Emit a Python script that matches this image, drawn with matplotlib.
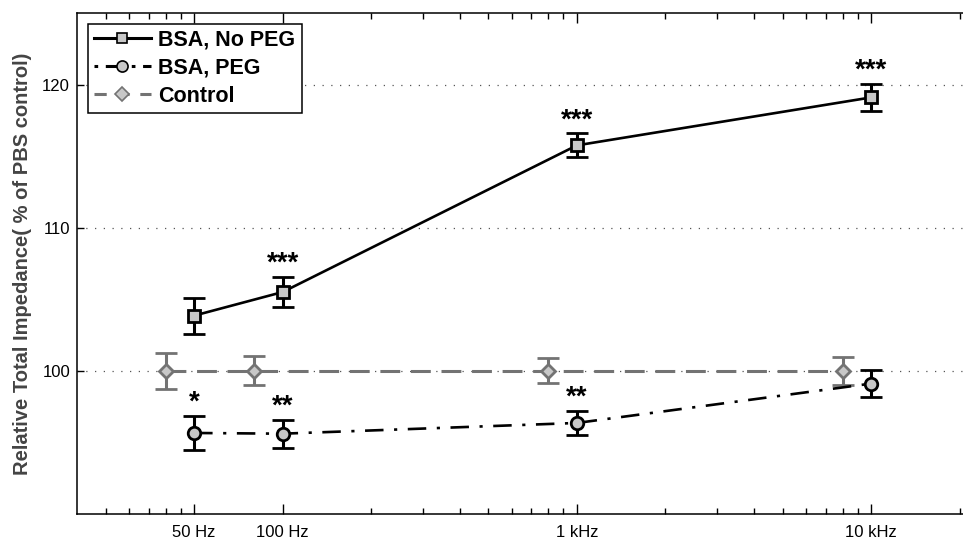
import numpy as np
import matplotlib
matplotlib.use("Agg")
from matplotlib import pyplot as plt
from matplotlib.lines import Line2D
from matplotlib.ticker import FixedLocator, NullFormatter

plt.rcParams['font.family'] = ['Liberation Sans', 'DejaVu Sans']

# frequencies (Hz) and relative impedance (% of PBS control)
freq = [50, 100, 1000, 10000]
freq_ctrl = [40, 80, 800, 8000]
tick_labels = ['50 Hz', '100 Hz', '1 kHz', '10 kHz']

no_peg = [103.85, 105.5, 115.75, 119.1]
no_peg_err = [1.25, 1.05, 0.84, 0.97]
no_peg_sig = ['', '***', '***', '***']

peg = [95.65, 95.6, 96.35, 99.1]
peg_err = [1.2, 0.97, 0.84, 0.93]
peg_sig = ['*', '**', '**', '']

ctrl = [100, 100, 100, 100]
ctrl_err = [1.25, 1.0, 0.87, 0.97]

gray = '#737373'
face = '#c8c8c8'
peg_dash = (7, 4, 1.2, 4)
ctrl_dash = (6.5, 3.5)

fig = plt.figure(figsize=(9.63, 5.42), dpi=100)
ax = fig.add_axes([0.080, 0.052, 0.923, 0.924])

ax.errorbar(freq, no_peg, yerr=no_peg_err, color='k', lw=1.9, ls='-',
            marker='s', ms=8, mfc=face, mec='k', mew=2.0,
            elinewidth=2.2, capsize=8, capthick=2.2, zorder=4)
ax.errorbar(freq, peg, yerr=peg_err, color='k', lw=1.9, dashes=peg_dash,
            marker='o', ms=9, mfc=face, mec='k', mew=2.0,
            elinewidth=2.2, capsize=8, capthick=2.2, zorder=4)
ax.errorbar(freq_ctrl, ctrl, yerr=ctrl_err, color=gray, lw=2.2, dashes=ctrl_dash,
            marker='D', ms=7.5, mfc=face, mec=gray, mew=2.0,
            elinewidth=2.2, capsize=8, capthick=2.2, zorder=3)

# significance stars above the error bars
for vals, errs, sigs in [(no_peg, no_peg_err, no_peg_sig), (peg, peg_err, peg_sig)]:
    for x, y, e, s in zip(freq, vals, errs, sigs):
        if s:
            ax.annotate(s, (x, y + e), xytext=(0, 0), textcoords='offset points',
                        ha='center', va='bottom', fontsize=20, fontweight='bold')

ax.set_xscale('log')
ax.set_xlim(20, 21000)
ax.set_ylim(90, 125)

ax.xaxis.set_major_locator(FixedLocator(freq))
ax.set_xticklabels(tick_labels)
minor = [25, 30, 35, 40, 45] + [m * 100 for m in range(2, 10)] + [m * 1000 for m in range(2, 10)] + [20000]
ax.xaxis.set_minor_locator(FixedLocator(minor))
ax.xaxis.set_minor_formatter(NullFormatter())
ax.set_yticks([100, 110, 120])

ax.tick_params(which='both', direction='in', top=True, right=False, labelsize=12, width=1)
ax.tick_params(which='major', length=7)
ax.tick_params(which='minor', length=4)
ax.tick_params(axis='x', pad=8)
ax.tick_params(axis='y', length=5, pad=5)

for sp in ax.spines.values():
    sp.set_linewidth(1.1)

ax.yaxis.grid(True, ls=(0, (1, 6)), color='#555555', lw=0.9)
ax.set_axisbelow(True)

ax.set_ylabel('Relative Total Impedance( % of PBS control)', fontsize=14.5,
              fontweight='bold', color='#444444', labelpad=7)

handles = [
    Line2D([], [], color='k', lw=2.2, marker='s', ms=7, mfc=face, mec='k', mew=1.2),
    Line2D([], [], color='k', lw=2.2, dashes=(1.2, 2.5, 6, 2.5), marker='o', ms=8, mfc=face, mec='k', mew=1.2),
    Line2D([], [], color=gray, lw=2.2, dashes=(4, 3.5), marker='D', ms=7, mfc=face, mec=gray, mew=1.2),
]
labels = ['BSA, No PEG', 'BSA, PEG', 'Control']
leg = ax.legend(handles, labels, loc='upper left', prop={'weight': 'bold', 'size': 15.5},
                frameon=True, fancybox=False, framealpha=1, edgecolor='k',
                handlelength=2.65, handletextpad=0.35, borderaxespad=0.5,
                labelspacing=0.33, borderpad=0.28)
leg.get_frame().set_linewidth(1.1)

fig.savefig('out.png', dpi=100)
